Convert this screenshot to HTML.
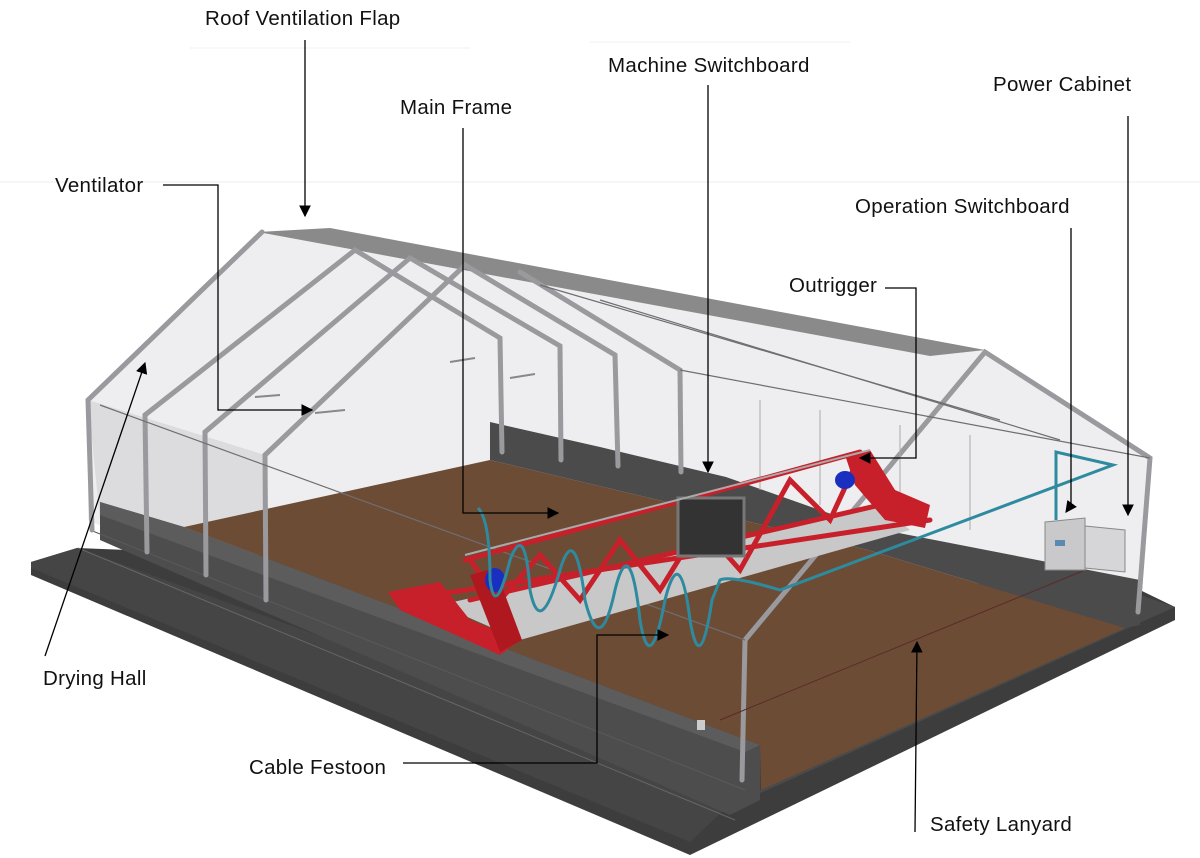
<!DOCTYPE html>
<html><head><meta charset="utf-8"><style>
html,body{margin:0;padding:0;background:#fff;}
svg{display:block;}
text{font-family:"Liberation Sans",Arial,sans-serif;font-size:20.5px;fill:#111;letter-spacing:0.3px;}
</style></head><body>
<svg width="1200" height="858" viewBox="0 0 1200 858" xmlns="http://www.w3.org/2000/svg">
<defs>
<marker id="ah" viewBox="0 0 10 10" refX="9" refY="5" markerWidth="9" markerHeight="9" orient="auto-start-reverse"><path d="M0,0 L10,5 L0,10 z" fill="#000"/></marker>
</defs>
<line x1="0" y1="182" x2="1200" y2="182" stroke="#eee" stroke-width="1"/>
<line x1="190" y1="48" x2="470" y2="48" stroke="#f0f0f0"/>
<line x1="590" y1="42" x2="850" y2="42" stroke="#f0f0f0"/>

<!-- tent translucent area -->
<polygon points="88,400 262,232 985,350 1150,455 1138,615 745,640 265,600 88,520" fill="#eeeef0"/>
<polygon points="88,400 265,455 265,600 100,520" fill="#dcdcdf"/>

<!-- slab -->
<polygon points="31,562 77,548 1140,590 1175,607 1175,620 690,855 31,575" fill="#3d3d3d"/>
<polygon points="31,562 77,548 745,790 690,842 31,568" fill="#454545"/>
<polygon points="745,800 1175,607 1140,595 760,790" fill="#4a4a4a"/>
<!-- left curb wall -->
<polygon points="100,502 184,527 760,745 760,800 730,815 100,540" fill="#4d4d4d"/>
<polygon points="100,502 184,527 760,745 745,752 100,515" fill="#5c5c5c"/>
<line x1="78" y1="548" x2="735" y2="820" stroke="#666" stroke-width="1"/>
<line x1="90" y1="530" x2="745" y2="790" stroke="#5a5a5a" stroke-width="1"/>

<!-- floor -->
<polygon points="184,527 490,460 868,550 1125,628 761,790 760,745" fill="#6d4c36"/>
<!-- back wall -->
<polygon points="490,422 490,460 868,550 1125,628 1140,625 1140,580 868,527 726,477 600,447" fill="#4b4b4b"/>

<!-- roof flap -->
<polygon points="258,232 330,228 985,350 930,356" fill="#8a8a8a"/>

<!-- frames -->
<g stroke="#9a9a9e" stroke-width="5" fill="none" stroke-linecap="round">
<polyline points="92,530 88,400 262,232"/>
<polyline points="147,552 145,415 355,250 500,338 502,452"/>
<polyline points="206,575 205,432 410,258 560,346 561,460"/>
<polyline points="266,600 265,455 465,265 615,355 618,466"/>
<polyline points="520,272 680,370 681,472"/>
<polyline points="742,780 745,640 985,352 1150,458 1138,612"/>
</g>
<g stroke="#6e6e72" stroke-width="1.2" fill="none">
<line x1="680" y1="370" x2="1150" y2="458"/>
<line x1="100" y1="405" x2="745" y2="640"/>
<line x1="540" y1="285" x2="1000" y2="420"/>
<line x1="600" y1="300" x2="1060" y2="440"/>
</g>
<g stroke="#aaa" stroke-width="1">
<line x1="760" y1="400" x2="760" y2="490"/><line x1="820" y1="410" x2="820" y2="505"/><line x1="900" y1="425" x2="900" y2="520"/><line x1="970" y1="435" x2="970" y2="530"/>
</g>

<!-- machine -->
<polygon points="440,605 880,505 910,530 520,640" fill="#c8c8c8"/>
<g stroke="#c8202a" stroke-width="5" fill="none" stroke-linecap="round">
<line x1="465" y1="560" x2="860" y2="452"/>
<line x1="400" y1="600" x2="930" y2="520"/>
<line x1="470" y1="600" x2="880" y2="505"/>
<polyline points="470,560 500,600 540,555 580,600 620,540 660,590 700,525 740,570 790,480 830,520 860,455"/>
</g>
<polygon points="388,592 440,582 470,620 520,640 500,655 400,610" fill="#c8202a"/>
<polygon points="845,455 870,450 895,490 930,505 925,528 885,520 855,485" fill="#c8202a"/>
<polygon points="470,575 495,568 522,640 500,652" fill="#b01820"/>
<rect x="678" y="498" width="66" height="58" fill="#333" stroke="#777" stroke-width="3"/>
<ellipse cx="495" cy="580" rx="10" ry="12" fill="#1a2fc0"/>
<ellipse cx="845" cy="480" rx="10" ry="9" fill="#1a2fc0"/>
<line x1="465" y1="555" x2="870" y2="450" stroke="#aaa" stroke-width="2"/>
<!-- festoon -->
<path d="M478,508 Q490,520 490,580 Q495,620 510,560 Q525,520 530,590 Q540,640 560,570 Q575,520 585,600 Q600,660 615,590 Q630,530 640,620 Q650,680 665,600 Q680,540 690,620 Q700,680 712,600 L720,580 Q730,575 780,590 L1113,465 L1056,452 L1056,520" stroke="#2e8a9e" stroke-width="3" fill="none"/>
<line x1="720" y1="720" x2="1085" y2="570" stroke="#5a2a2a" stroke-width="1"/>
<!-- cabinets -->
<polygon points="1045,522 1085,518 1085,570 1045,570" fill="#c9c9cc" stroke="#888"/>
<polygon points="1085,526 1125,530 1125,572 1085,568" fill="#d6d6d8" stroke="#888"/>
<rect x="1055" y="540" width="10" height="6" fill="#5a8ab0"/>
<rect x="697" y="720" width="8" height="10" fill="#ccc"/>

<g stroke="#888" stroke-width="2"><line x1="450" y1="362" x2="475" y2="358"/><line x1="510" y1="378" x2="535" y2="374"/><line x1="255" y1="397" x2="280" y2="395"/><line x1="315" y1="413" x2="345" y2="410"/></g>

<g stroke="#000" stroke-width="1.3" fill="none">
<line x1="305" y1="40" x2="305" y2="216" marker-end="url(#ah)"/>
<polyline points="463,128 463,513 558,513" marker-end="url(#ah)"/>
<line x1="708" y1="85" x2="708" y2="472" marker-end="url(#ah)"/>
<line x1="1128" y1="116" x2="1128" y2="515" marker-end="url(#ah)"/>
<polyline points="163,185 218,185 218,410 312,410" marker-end="url(#ah)"/>
<polyline points="1071,228 1071,505 1066,512" marker-end="url(#ah)"/>
<polyline points="885,288 916,288 916,458 860,458" marker-end="url(#ah)"/>
<line x1="45" y1="656" x2="145" y2="363" marker-end="url(#ah)"/>
<polyline points="403,763 597,763 597,635 668,635" marker-end="url(#ah)"/>
<line x1="915" y1="832" x2="917" y2="642" marker-end="url(#ah)"/>
</g>
<text x="205" y="25">Roof Ventilation Flap</text>
<text x="400" y="114">Main Frame</text>
<text x="608" y="72">Machine Switchboard</text>
<text x="993" y="91">Power Cabinet</text>
<text x="55" y="192">Ventilator</text>
<text x="855" y="213">Operation Switchboard</text>
<text x="789" y="292">Outrigger</text>
<text x="43" y="685">Drying Hall</text>
<text x="249" y="774">Cable Festoon</text>
<text x="930" y="831">Safety Lanyard</text>
</svg>
</body></html>
